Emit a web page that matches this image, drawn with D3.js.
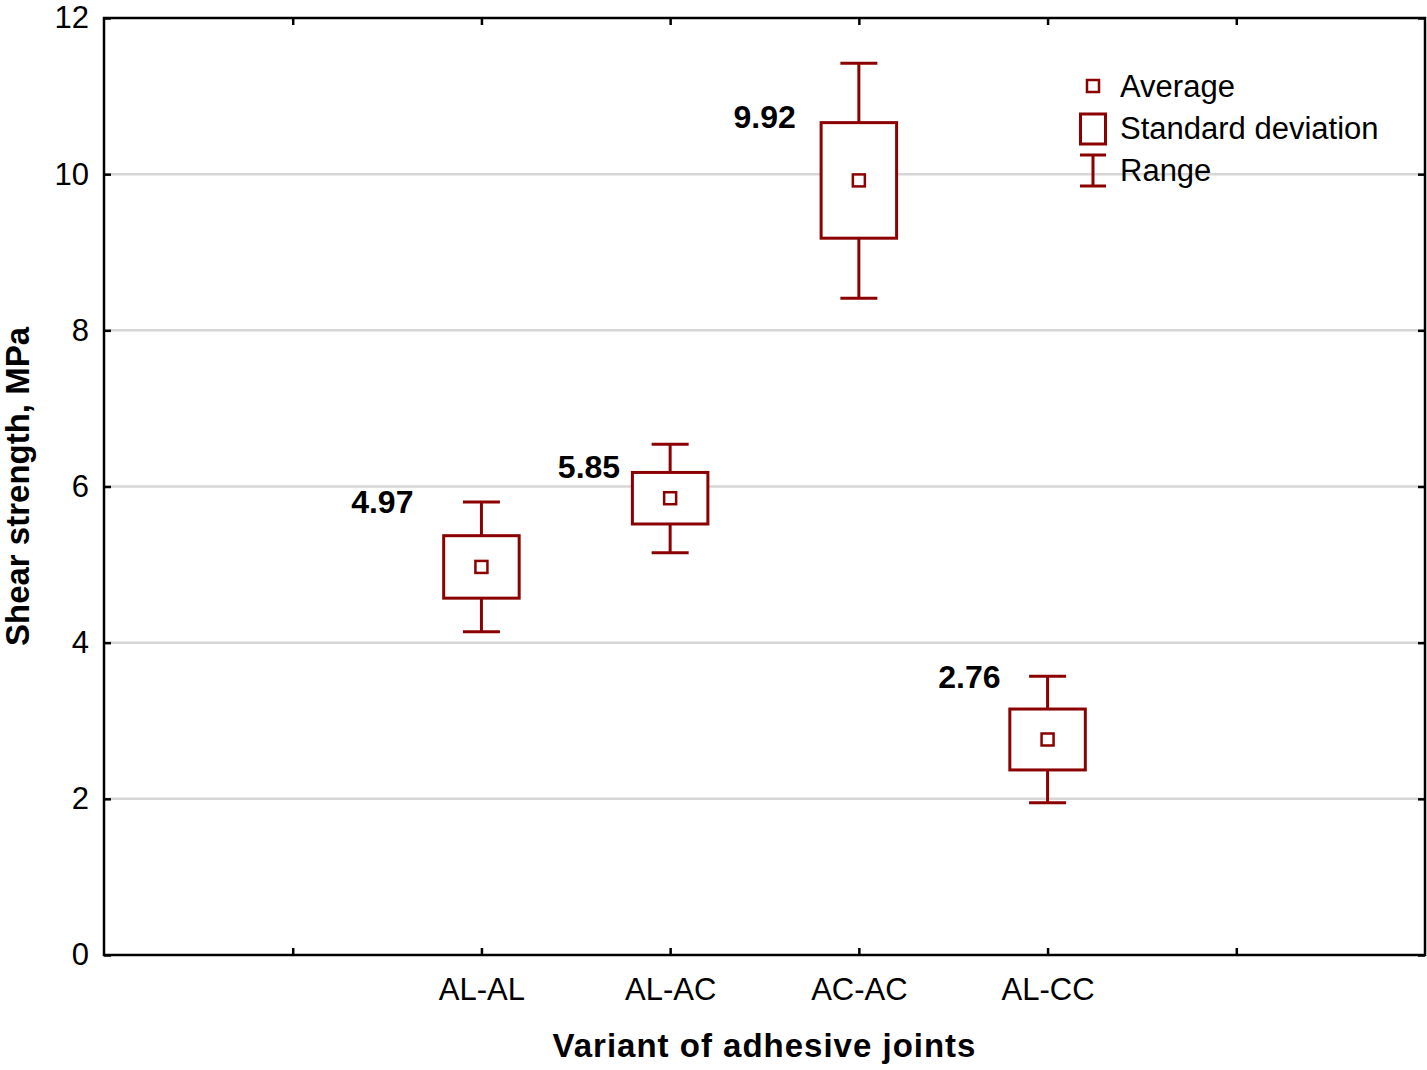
<!DOCTYPE html>
<html>
<head>
<meta charset="utf-8">
<script src="https://cdn.jsdelivr.net/npm/d3@7"></script>
<style>
  html, body { margin: 0; padding: 0; background: #fff; }
  svg text { font-family: "Liberation Sans", Arial, sans-serif; }
</style>
</head>
<body>
<svg id="chart" width="1427" height="1070"></svg>
<script>
// ---- data ----
const categories = ["AL-AL", "AL-AC", "AC-AC", "AL-CC"];
const means      = [4.97, 5.85, 9.92, 2.76];
const sdLow      = [4.57, 5.52, 9.18, 2.37];
const sdHigh     = [5.37, 6.18, 10.66, 3.15];
const rangeMin   = [4.14, 5.15, 8.41, 1.95];
const rangeMax   = [5.80, 6.54, 11.42, 3.57];
const meanLabels = ["4.97", "5.85", "9.92", "2.76"];
const yTicks     = [0, 2, 4, 6, 8, 10, 12];
const legendItems = ["Average", "Standard deviation", "Range"];

// ---- layout ----
const W = 1427, H = 1070;
const m = { left: 104, right: 2, top: 18, bottom: 115 };
const color = "#8b0000";
const labelShift = [ // dx in px from category centre (right edge), y in value units (baseline)
  { dx: -68, v: 5.66 }, { dx: -50, v: 6.11 }, { dx: -63, v: 10.59 }, { dx: -47, v: 3.42 }
];

const svg = d3.select("#chart");
const x = d3.scaleLinear().domain([0, categories.length + 3]).range([m.left, W - m.right]);
const y = d3.scaleLinear().domain([0, 12]).range([H - m.bottom, m.top]);
const cx = i => x(i + 2);

// gridlines
svg.append("g").selectAll("line").data(yTicks.filter(t => t > 0 && t < 12)).join("line")
  .attr("x1", x.range()[0]).attr("x2", x.range()[1])
  .attr("y1", d => y(d)).attr("y2", d => y(d))
  .attr("stroke", "#d6d6d6").attr("stroke-width", 2.5);

// axes
const xTickVals = d3.range(1, categories.length + 3);
const xLab = v => { const i = v - 2; return (i >= 0 && i < categories.length) ? categories[i] : ""; };
const axStyle = g => { g.select(".domain").remove(); g.selectAll("line").attr("stroke", "#000").attr("stroke-width", 2.5); };

svg.append("g").attr("transform", `translate(0,${y(0)})`)
  .call(d3.axisBottom(x).tickValues(xTickVals).tickFormat(xLab).tickSizeInner(-7).tickSizeOuter(0).tickPadding(23))
  .call(axStyle)
  .call(g => g.selectAll("text").attr("font-size", 31).attr("fill", "#000").attr("font-family", "Liberation Sans, Arial, sans-serif"));
svg.append("g").attr("transform", `translate(0,${y(12)})`)
  .call(d3.axisTop(x).tickValues(xTickVals).tickFormat("").tickSizeInner(-7).tickSizeOuter(0))
  .call(axStyle);
svg.append("g").attr("transform", `translate(${x(0)},0)`)
  .call(d3.axisLeft(y).tickValues(yTicks).tickFormat(d3.format("d")).tickSizeInner(-7).tickSizeOuter(0).tickPadding(15))
  .call(axStyle)
  .call(g => g.selectAll("text").attr("font-size", 31).attr("fill", "#000").attr("font-family", "Liberation Sans, Arial, sans-serif"));
svg.append("g").attr("transform", `translate(${x.range()[1]},0)`)
  .call(d3.axisRight(y).tickValues(yTicks).tickFormat("").tickSizeInner(-7).tickSizeOuter(0))
  .call(axStyle);

// frame
svg.append("rect")
  .attr("x", x.range()[0]).attr("y", y(12))
  .attr("width", x.range()[1] - x.range()[0]).attr("height", y(0) - y(12))
  .attr("fill", "none").attr("stroke", "#000").attr("stroke-width", 2.5);

// marks
const boxW = x(0.4) - x(0), capW = x(0.196) - x(0), meanS = 12;
const g = svg.append("g").attr("stroke", color).attr("fill", "none").attr("stroke-width", 3);
categories.forEach((c, i) => {
  const X = cx(i);
  g.append("line").attr("x1", X).attr("x2", X).attr("y1", y(rangeMax[i])).attr("y2", y(sdHigh[i]));
  g.append("line").attr("x1", X).attr("x2", X).attr("y1", y(sdLow[i])).attr("y2", y(rangeMin[i]));
  g.append("line").attr("x1", X - capW / 2).attr("x2", X + capW / 2).attr("y1", y(rangeMax[i])).attr("y2", y(rangeMax[i]));
  g.append("line").attr("x1", X - capW / 2).attr("x2", X + capW / 2).attr("y1", y(rangeMin[i])).attr("y2", y(rangeMin[i]));
  g.append("rect").attr("x", X - boxW / 2).attr("y", y(sdHigh[i]))
    .attr("width", boxW).attr("height", y(sdLow[i]) - y(sdHigh[i])).attr("fill", "#fff");
  g.append("rect").attr("x", X - meanS / 2).attr("y", y(means[i]) - meanS / 2)
    .attr("width", meanS).attr("height", meanS).attr("fill", "#fff").attr("stroke-width", 2.5);
});

// value labels
svg.append("g").selectAll("text").data(meanLabels).join("text")
  .attr("x", (d, i) => cx(i) + labelShift[i].dx)
  .attr("y", (d, i) => y(labelShift[i].v))
  .attr("text-anchor", "end").attr("font-size", 32).attr("font-weight", "bold").attr("fill", "#000")
  .text(d => d);

// axis titles
svg.append("text").attr("x", (x.range()[0] + x.range()[1]) / 2).attr("y", 1057)
  .attr("text-anchor", "middle").attr("font-size", 33).attr("font-weight", "bold")
  .attr("letter-spacing", 1).text("Variant of adhesive joints");
svg.append("text").attr("transform", `translate(29,${(y(0) + y(12)) / 2}) rotate(-90)`)
  .attr("text-anchor", "middle").attr("font-size", 33).attr("font-weight", "bold")
  .text("Shear strength, MPa");

// legend
const lg = svg.append("g");
const lx = 1093;
lg.append("rect").attr("x", lx - 6).attr("y", 80).attr("width", 12).attr("height", 12)
  .attr("fill", "#fff").attr("stroke", color).attr("stroke-width", 2.5);
lg.append("rect").attr("x", lx - 12.5).attr("y", 114).attr("width", 25).attr("height", 30)
  .attr("fill", "#fff").attr("stroke", color).attr("stroke-width", 3);
lg.append("line").attr("x1", lx).attr("x2", lx).attr("y1", 155).attr("y2", 186).attr("stroke", color).attr("stroke-width", 3);
lg.append("line").attr("x1", lx - 13).attr("x2", lx + 13).attr("y1", 155).attr("y2", 155).attr("stroke", color).attr("stroke-width", 3);
lg.append("line").attr("x1", lx - 13).attr("x2", lx + 13).attr("y1", 186).attr("y2", 186).attr("stroke", color).attr("stroke-width", 3);
lg.selectAll("text").data(legendItems).join("text")
  .attr("x", 1120).attr("y", (d, i) => 97 + i * 42)
  .attr("font-size", 31).attr("fill", "#000").text(d => d);
</script>
</body>
</html>
